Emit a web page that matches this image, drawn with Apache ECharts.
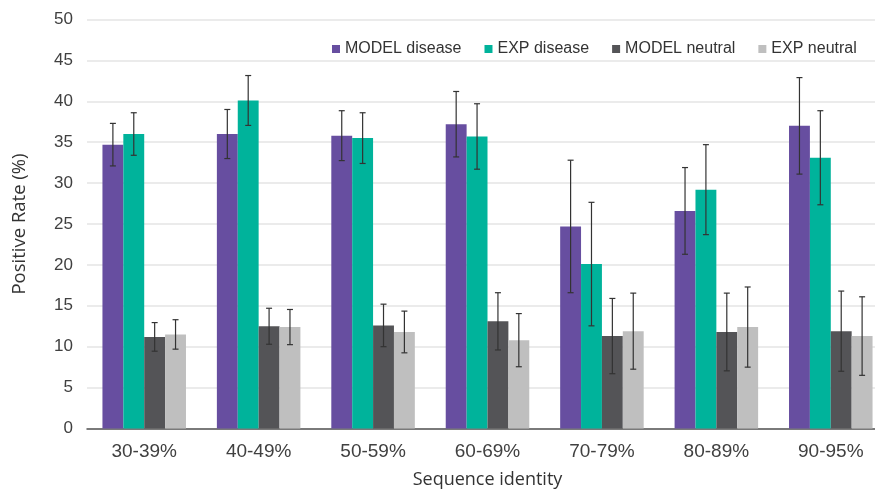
<!DOCTYPE html>
<html>
<head>
<meta charset="utf-8">
<script src="https://cdn.jsdelivr.net/npm/echarts@6/dist/echarts.min.js"></script>
<style>
  html, body { margin: 0; padding: 0; background: #ffffff; }
  #chart { width: 875px; height: 491px; }
</style>
</head>
<body>
<div id="chart"></div>
<script>
const categories = ['30-39%', '40-49%', '50-59%', '60-69%', '70-79%', '80-89%', '90-95%'];
const seriesNames = ['MODEL disease', 'EXP disease', 'MODEL neutral', 'EXP neutral'];
const modelDisease = [34.7, 36.0, 35.8, 37.2, 24.7, 26.6, 37.0];
const expDisease   = [36.0, 40.1, 35.5, 35.7, 20.1, 29.2, 33.1];
const modelNeutral = [11.2, 12.5, 12.6, 13.1, 11.3, 11.8, 11.9];
const expNeutral   = [11.5, 12.4, 11.8, 10.8, 11.9, 12.4, 11.3];
const modelDiseaseErr = [2.6, 3.0, 3.05, 4.0, 8.1, 5.3, 5.9];
const expDiseaseErr   = [2.6, 3.05, 3.1, 4.0, 7.55, 5.5, 5.75];
const modelNeutralErr = [1.75, 2.2, 2.6, 3.5, 4.6, 4.75, 4.9];
const expNeutralErr   = [1.8, 2.15, 2.55, 3.25, 4.65, 4.9, 4.8];
const yTicks = [0, 5, 10, 15, 20, 25, 30, 35, 40, 45, 50];

const values = [modelDisease, expDisease, modelNeutral, expNeutral];
const errors = [modelDiseaseErr, expDiseaseErr, modelNeutralErr, expNeutralErr];
const colors = ['#674ea0', '#00b39b', '#545457', '#bfbfbf'];
const CATEGORY_GAP = 0.27;

const chart = echarts.init(document.getElementById('chart'), null, { renderer: 'canvas' });

const barSeries = seriesNames.map((name, i) => ({
  name: name,
  type: 'bar',
  data: values[i],
  barGap: '0%',
  barCategoryGap: (CATEGORY_GAP * 100) + '%',
  itemStyle: { color: colors[i] },
  z: 2
}));

const errSeries = seriesNames.map((name, si) => ({
  type: 'custom',
  name: name + ' err',
  z: 5,
  silent: true,
  data: categories.map((c, k) => [k, values[si][k], errors[si][k]]),
  renderItem: function (params, api) {
    const idx = api.value(0);
    const v = api.value(1);
    const e = api.value(2);
    const bandW = api.size([1, 0])[0];
    const barW = bandW * (1 - CATEGORY_GAP) / 4;
    const center = api.coord([idx, v]);
    const cx = center[0] + (si - 1.5) * barW;
    const hi = api.coord([idx, v + e])[1];
    const lo = api.coord([idx, v - e])[1];
    const cap = 3;
    const style = { stroke: '#333333', lineWidth: 1.2, fill: null };
    return {
      type: 'group',
      children: [
        { type: 'line', shape: { x1: cx, y1: hi, x2: cx, y2: lo }, style: style },
        { type: 'line', shape: { x1: cx - cap, y1: hi, x2: cx + cap, y2: hi }, style: style },
        { type: 'line', shape: { x1: cx - cap, y1: lo, x2: cx + cap, y2: lo }, style: style }
      ]
    };
  }
}));

const option = {
  backgroundColor: '#ffffff',
  animation: false,
  grid: { left: 87, right: -13, top: 19.5, bottom: 62.5, containLabel: false, outerBoundsMode: 'none' },
  legend: {
    data: seriesNames,
    left: 327,
    top: 36,
    icon: 'rect',
    itemWidth: 8,
    itemHeight: 8,
    itemGap: 23,
    textStyle: { fontFamily: 'Liberation Sans, Arial, sans-serif', fontSize: 16, color: '#333333' }
  },
  xAxis: {
    type: 'category',
    data: categories,
    name: 'Sequence identity',
    nameLocation: 'middle',
    nameGap: 42,
    nameTextStyle: { fontFamily: 'Open Sans, sans-serif', fontSize: 18, color: '#333333' },
    axisLine: { lineStyle: { color: '#555555', width: 1.5 } },
    axisTick: { show: false },
    axisLabel: { fontFamily: 'Liberation Sans, Arial, sans-serif', fontSize: 19, color: '#404040', margin: 14 }
  },
  yAxis: {
    type: 'value',
    min: yTicks[0],
    max: yTicks[yTicks.length - 1],
    interval: yTicks[1] - yTicks[0],
    name: 'Positive Rate (%)',
    nameLocation: 'middle',
    nameGap: 58,
    nameTextStyle: { fontFamily: 'Open Sans, sans-serif', fontSize: 18.5, color: '#333333' },
    axisLine: { show: false },
    axisTick: { show: false },
    axisLabel: { fontFamily: 'Liberation Sans, Arial, sans-serif', fontSize: 17, color: '#404040', margin: 14 },
    splitLine: { lineStyle: { color: '#e4e4e4', width: 1.5 } }
  },
  series: barSeries.concat(errSeries)
};

chart.setOption(option);
</script>
</body>
</html>
